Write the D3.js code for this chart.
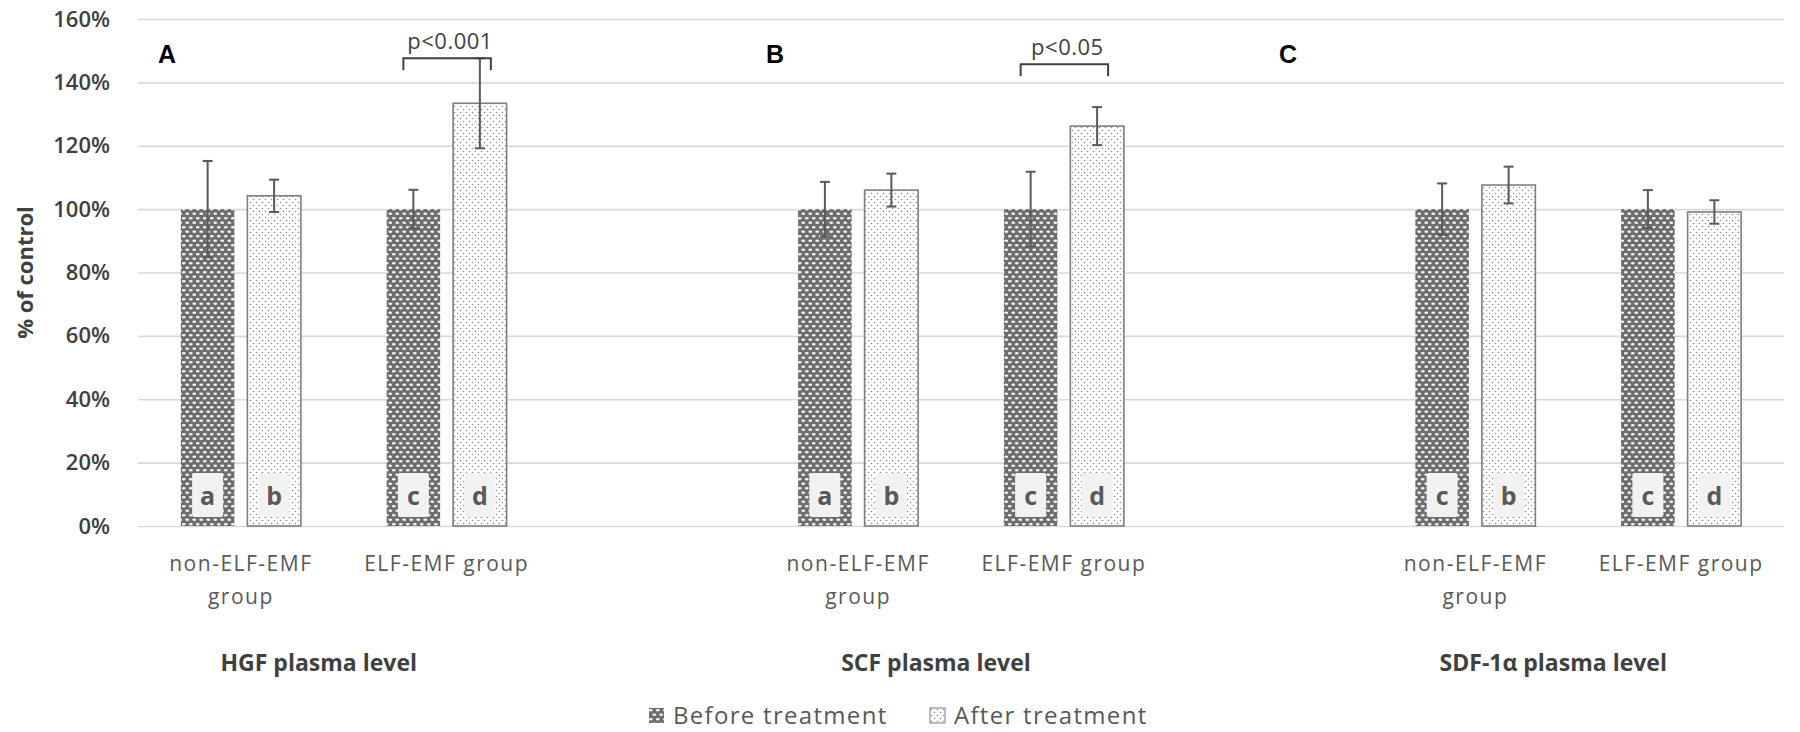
<!DOCTYPE html>
<html>
<head>
<meta charset="utf-8">
<script src="https://cdn.jsdelivr.net/npm/d3@7"></script>
<style>
  body { margin: 0; background: #fff; }
  text { font-family: "Open Sans", "Noto Sans", sans-serif; }
</style>
</head>
<body>
<div id="chart"></div>
<script>
// values (% of control)
const panels = ["HGF plasma level", "SCF plasma level", "SDF-1α plasma level"];
const panelLetters = ["A", "B", "C"];
const groups = ["non-ELF-EMF group", "ELF-EMF group"];
const groupLabelLines = [["non-ELF-EMF", "group"], ["ELF-EMF group"]];
const series = ["Before treatment", "After treatment"];

// one entry per panel x group: HGF non, HGF ELF, SCF non, SCF ELF, SDF non, SDF ELF
const beforeValues = [100, 100, 100, 100, 100, 100];
const beforeErrors = [15.2, 6.1, 8.6, 11.8, 8.1, 6.0];
const afterValues = [104.2, 133.4, 106.0, 126.2, 107.6, 99.1];
const afterErrors = [5.1, 14.2, 5.2, 6.0, 5.8, 3.7];
const beforeLetters = ["a", "c", "a", "c", "c", "c"];
const afterLetters = ["b", "d", "b", "d", "b", "d"];

const pLabels = ["p<0.001", "p<0.05", null];
const pLevels = [147.6, 145.7, null];

const yTicks = [0, 20, 40, 60, 80, 100, 120, 140, 160];

// layout
const width = 1800, height = 732;
const plot = { left: 138, right: 1784, top: 19, bottom: 526 };
const letterX = [158, 766, 1279];

const svg = d3.select("#chart")
  .append("svg")
  .attr("width", width)
  .attr("height", height);

// fill patterns like the Excel ones
const defs = svg.append("defs");
const pb = defs.append("pattern")
  .attr("id", "patBefore")
  .attr("patternUnits", "userSpaceOnUse")
  .attr("width", 7).attr("height", 9);
pb.append("rect").attr("width", 7).attr("height", 9).attr("fill", "#6e6e6e");
pb.append("ellipse").attr("cx", 1.75).attr("cy", 2.25).attr("rx", 2).attr("ry", 1.15).attr("fill", "#f4f4f4");
pb.append("ellipse").attr("cx", 5.25).attr("cy", 6.75).attr("rx", 2).attr("ry", 1.15).attr("fill", "#f4f4f4");

const pa = defs.append("pattern")
  .attr("id", "patAfter")
  .attr("patternUnits", "userSpaceOnUse")
  .attr("width", 6).attr("height", 6);
pa.append("rect").attr("width", 6).attr("height", 6).attr("fill", "#fff");
pa.append("circle").attr("cx", 1.5).attr("cy", 1.5).attr("r", 0.8).attr("fill", "#8c8c8c");
pa.append("circle").attr("cx", 4.5).attr("cy", 4.5).attr("r", 0.8).attr("fill", "#8c8c8c");

const fills = { "Before treatment": "url(#patBefore)", "After treatment": "url(#patAfter)" };

// categories: two groups per panel, with an empty slot between panels
const keys = [];
panels.forEach((p, i) => {
  groups.forEach(g => keys.push(p + "|" + g));
  if (i < panels.length - 1) keys.push("gap" + i);
});

const x = d3.scaleBand()
  .domain(keys)
  .range([plot.left, plot.right]);

const xs = d3.scaleBand()
  .domain(series)
  .range([x.bandwidth() / 2 - 60, x.bandwidth() / 2 + 60])
  .paddingInner(0.195);

const y = d3.scaleLinear()
  .domain([0, 160])
  .range([plot.bottom, plot.top]);

// gridlines
svg.append("g")
  .attr("transform", `translate(${plot.left},0)`)
  .call(d3.axisLeft(y).tickValues(yTicks).tickSize(-(plot.right - plot.left)).tickFormat(""))
  .call(g => g.select(".domain").remove())
  .call(g => g.selectAll("line").attr("stroke", "#d9d9d9").attr("stroke-width", 1.6));

// y tick labels
svg.append("g")
  .attr("transform", `translate(${plot.left},0)`)
  .call(d3.axisLeft(y).tickValues(yTicks).tickSize(0).tickPadding(28).tickFormat(d => d + "%"))
  .call(g => g.select(".domain").remove())
  .call(g => g.selectAll("text")
    .attr("fill", "#404040")
    .style("font-size", "22px")
    .style("font-weight", "600")
    .style("font-family", "'Open Sans', sans-serif"));

svg.append("text")
  .attr("transform", `translate(33, ${(plot.top + plot.bottom) / 2}) rotate(-90)`)
  .attr("text-anchor", "middle")
  .attr("fill", "#404040")
  .style("font-size", "22px")
  .style("font-weight", "700")
  .text("% of control");

// rows for bars
const rows = [];
panels.forEach((p, i) => {
  groups.forEach((g, j) => {
    const k = i * 2 + j;
    rows.push({ key: p + "|" + g, s: series[0], value: beforeValues[k], err: beforeErrors[k], letter: beforeLetters[k] });
    rows.push({ key: p + "|" + g, s: series[1], value: afterValues[k], err: afterErrors[k], letter: afterLetters[k] });
  });
});

const barX = d => x(d.key) + xs(d.s);
const barC = d => barX(d) + xs.bandwidth() / 2;

svg.selectAll("rect.bar")
  .data(rows)
  .enter()
  .append("rect")
  .attr("class", "bar")
  .attr("x", barX)
  .attr("y", d => y(d.value))
  .attr("width", xs.bandwidth())
  .attr("height", d => y(0) - y(d.value))
  .attr("fill", d => fills[d.s])
  .attr("stroke", d => d.s === series[1] ? "#7f7f7f" : "none")
  .attr("stroke-width", 1.6);

// letter labels inside bars
svg.selectAll("rect.lbox")
  .data(rows)
  .enter()
  .append("rect")
  .attr("class", "lbox")
  .attr("x", d => barC(d) - 15.5)
  .attr("y", y(0) - 53)
  .attr("width", 31)
  .attr("height", 44)
  .attr("rx", 2)
  .attr("fill", "#f2f2f2");

svg.selectAll("text.letter")
  .data(rows)
  .enter()
  .append("text")
  .attr("class", "letter")
  .attr("x", barC)
  .attr("y", y(0) - 21)
  .attr("text-anchor", "middle")
  .attr("fill", "#595959")
  .style("font-size", "25px")
  .style("font-weight", "700")
  .text(d => d.letter);

// error bars
const eb = svg.append("g")
  .attr("stroke", "#595959")
  .attr("stroke-width", 2);

rows.forEach(d => {
  const cx = barC(d);
  eb.append("line").attr("x1", cx).attr("x2", cx).attr("y1", y(d.value - d.err)).attr("y2", y(d.value + d.err));
  eb.append("line").attr("x1", cx - 5).attr("x2", cx + 5).attr("y1", y(d.value + d.err)).attr("y2", y(d.value + d.err));
  eb.append("line").attr("x1", cx - 5).attr("x2", cx + 5).attr("y1", y(d.value - d.err)).attr("y2", y(d.value - d.err));
});

// significance brackets
panels.forEach((p, i) => {
  if (!pLabels[i]) return;
  const key = p + "|" + groups[1];
  const x1 = x(key) + xs(series[0]) + xs.bandwidth() / 2 - 10;
  const x2 = x(key) + xs(series[1]) + xs.bandwidth() / 2 + 11;
  const yl = y(pLevels[i]);
  svg.append("path")
    .attr("d", `M${x1},${yl + 12}V${yl}H${x2}V${yl + 12}`)
    .attr("fill", "none")
    .attr("stroke", "#404040")
    .attr("stroke-width", 2);
  svg.append("text")
    .attr("x", (x1 + x2) / 2 + 3)
    .attr("y", yl - 9)
    .attr("text-anchor", "middle")
    .attr("fill", "#404040")
    .style("font-size", "22px")
    .style("letter-spacing", "0.5px")
    .text(pLabels[i]);
});

// category labels
panels.forEach(p => {
  groups.forEach((g, j) => {
    const cx = x(p + "|" + g) + x.bandwidth() / 2;
    const t = svg.append("text")
      .attr("text-anchor", "middle")
      .attr("fill", "#595959")
      .style("font-size", "21px")
      .style("letter-spacing", "1.5px");
    groupLabelLines[j].forEach((line, li) => {
      t.append("tspan").attr("x", cx).attr("y", 571 + li * 33).text(line);
    });
  });
});

// panel titles and letters
panels.forEach((p, i) => {
  const mid = (x(p + "|" + groups[0]) + x(p + "|" + groups[1]) + x.bandwidth()) / 2;
  svg.append("text")
    .attr("x", mid - 25)
    .attr("y", 671)
    .attr("text-anchor", "middle")
    .attr("fill", "#404040")
    .style("font-size", "23px")
    .style("font-weight", "700")
    .text(p);
  svg.append("text")
    .attr("x", letterX[i])
    .attr("y", 63)
    .attr("fill", "#000")
    .style("font-family", "'Liberation Sans', Arial, sans-serif")
    .style("font-size", "25px")
    .style("font-weight", "700")
    .text(panelLetters[i]);
});

// legend
const legend = svg.append("g").attr("transform", "translate(649, 708)");
series.forEach((s, i) => {
  const item = legend.append("g").attr("transform", `translate(${i * 281}, 0)`);
  item.append("rect")
    .attr("width", 15).attr("height", 15)
    .attr("fill", fills[s])
    .attr("stroke", s === series[1] ? "#7f7f7f" : "none")
    .attr("stroke-width", 1);
  item.append("text")
    .attr("x", 24)
    .attr("y", 16)
    .attr("fill", "#595959")
    .style("font-size", "24px")
    .style("letter-spacing", "1.3px")
    .text(s);
});
</script>
</body>
</html>
